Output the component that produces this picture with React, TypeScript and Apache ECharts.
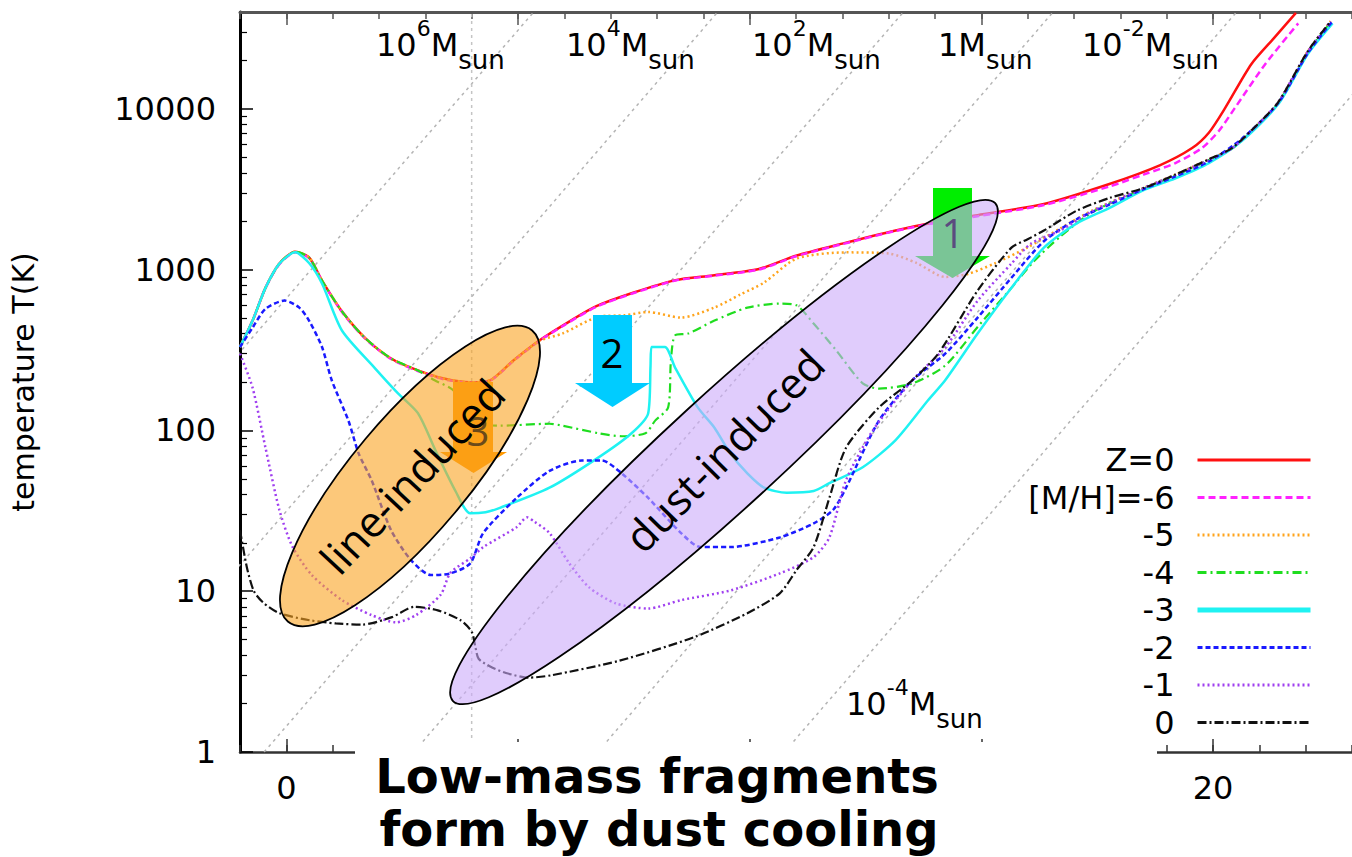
import React, { useEffect, useRef } from "react";
import * as echarts from "echarts";

// ---------- data (x = log density, y = temperature K) ----------
const seriesNames = ["Z=0", "[M/H]=-6", "-5", "-4", "-3", "-2", "-1", "0"];
const seriesColors = ["#ff1010", "#ff22ff", "#ffa41c", "#1fdd1f", "#1ff2f2", "#1a1aff", "#a040f0", "#111111"];
const seriesDash: any[] = ["solid", [7, 4], [2, 3], [9, 4, 2, 4], "solid", [5, 3], [2, 3], [9, 3, 2, 3]];
const seriesWidth = [2.5, 2.5, 2.5, 2.2, 2.5, 2.5, 2.5, 2.2];
const legendWidth = [3, 3, 3, 3, 5, 3, 3, 3];

const tempZ0 = [[-1, 330], [-0.73, 480], [-0.45, 770], [-0.15, 1090], [0.19, 1290], [0.49, 1190], [0.77, 855], [1.2, 550], [1.69, 378], [2.26, 280], [2.84, 236], [3.4, 210], [3.97, 199], [4.4, 205], [4.9, 272], [5.46, 362], [6.0, 455], [6.68, 590], [7.5, 720], [8.4, 860], [9.2, 920], [10.2, 1010], [11.0, 1220], [12.0, 1450], [13.15, 1750], [14.0, 1970], [14.92, 2180], [16.35, 2560], [17.78, 3420], [18.85, 4450], [19.55, 5700], [19.91, 7100], [20.26, 10100], [20.83, 19000], [21.32, 27600], [21.79, 39500]];
const tempM6 = [[-1, 330], [-0.73, 480], [-0.45, 770], [-0.15, 1080], [0.19, 1280], [0.49, 1180], [0.77, 850], [1.2, 545], [1.69, 375], [2.26, 278], [2.84, 234], [3.4, 208], [3.97, 198], [4.4, 204], [4.9, 270], [5.46, 360], [6.0, 452], [6.68, 585], [7.5, 715], [8.4, 855], [9.2, 915], [10.2, 1000], [11.0, 1210], [12.0, 1440], [13.15, 1740], [14.0, 1950], [14.92, 2150], [16.35, 2520], [17.78, 3300], [18.5, 3900], [19.19, 4600], [19.76, 5700], [20.13, 7300], [20.47, 10100], [21.13, 19000], [21.84, 34000]];
const tempM5 = [[-1, 330], [-0.73, 480], [-0.45, 770], [-0.15, 1090], [0.19, 1290], [0.49, 1190], [0.77, 855], [1.2, 550], [1.69, 378], [2.26, 280], [2.84, 236], [3.4, 210], [3.97, 199], [4.4, 205], [4.9, 272], [5.46, 360], [5.96, 400], [6.74, 510], [7.3, 520], [7.81, 545], [8.52, 503], [9.24, 581], [9.8, 700], [10.31, 830], [11.01, 1170], [12.08, 1280], [13.0, 1260], [13.6, 1100], [14.22, 900], [14.71, 940], [15.28, 1090], [15.99, 1370], [16.7, 1800], [17.42, 2350], [18.48, 3200], [19.19, 3900], [19.91, 4850], [20.41, 5700], [20.98, 8100], [21.41, 11000], [22.05, 22900], [22.54, 35000]];
const tempM4 = [[-1, 330], [-0.73, 480], [-0.45, 770], [-0.15, 1090], [0.19, 1290], [0.49, 1190], [0.77, 855], [1.2, 550], [1.69, 378], [2.26, 280], [2.84, 236], [3.2, 205], [3.59, 179], [3.9, 135], [4.2, 110], [4.61, 107], [5.68, 110], [5.96, 107], [6.74, 96], [7.24, 92], [7.75, 96], [7.96, 115], [8.24, 139], [8.3, 272], [8.39, 390], [8.67, 400], [9.24, 482], [9.95, 580], [10.65, 615], [11.01, 600], [11.38, 462], [11.87, 314], [12.44, 196], [12.79, 182], [13.51, 196], [14.22, 253], [14.92, 440], [15.65, 770], [16.14, 1130], [16.7, 1600], [17.42, 2300], [18.48, 3150], [19.19, 3850], [19.91, 4800], [20.41, 5650], [20.98, 8000], [21.41, 10900], [22.05, 22500], [22.54, 34500]];
const tempM3 = [[-1, 330], [-0.73, 480], [-0.45, 770], [-0.15, 1090], [0.19, 1280], [0.49, 1100], [0.77, 820], [1.2, 418], [1.9, 246], [2.41, 170], [2.84, 128], [3.22, 75], [3.65, 42], [3.97, 30.5], [4.3, 31], [4.61, 33], [5.68, 44], [6.74, 68], [7.45, 96], [7.81, 128], [7.86, 250], [7.88, 330], [8.17, 330], [8.39, 246], [8.88, 139], [9.24, 104], [9.58, 72], [9.95, 54], [10.31, 44], [10.8, 41], [11.38, 42], [11.72, 47], [12.44, 59], [13.15, 87], [13.85, 154], [14.22, 205], [14.92, 400], [15.65, 770], [16.35, 1370], [17.05, 1930], [17.78, 2430], [18.48, 3100], [19.19, 3700], [19.91, 4600], [20.62, 6300], [21.41, 10700], [22.05, 22000], [22.58, 34000]];
const tempM2 = [[-1, 330], [-0.73, 435], [-0.45, 570], [-0.04, 642], [0.28, 580], [0.49, 482], [0.77, 330], [0.98, 205], [1.34, 115], [1.56, 72], [1.84, 49], [2.26, 24], [2.69, 15.6], [3.12, 12.6], [3.54, 12.9], [3.97, 14.9], [4.25, 23], [4.97, 38], [5.68, 56], [6.38, 65], [6.81, 65], [7.24, 54], [7.81, 38], [8.52, 23], [8.94, 18.8], [9.58, 18.8], [10.65, 21.6], [11.38, 26.4], [11.8, 32], [12.08, 44], [12.79, 115], [13.51, 205], [14.22, 300], [14.92, 503], [15.65, 890], [16.35, 1500], [17.05, 2050], [17.78, 2550], [18.48, 3150], [19.19, 3800], [19.91, 4700], [20.62, 6500], [21.41, 10900], [22.05, 22300], [22.56, 34500]];
const tempM1 = [[-1, 300], [-0.73, 185], [-0.45, 78], [-0.15, 32], [0.13, 19], [0.55, 12.6], [1.2, 8.8], [1.84, 7.1], [2.37, 6.4], [2.8, 7.1], [3.33, 9.5], [3.54, 13], [3.97, 16], [4.25, 18.8], [4.97, 25], [5.19, 28.8], [5.36, 27], [5.68, 23], [6.1, 15], [6.53, 10.6], [7.11, 8.4], [7.81, 7.8], [8.52, 8.8], [9.58, 10.1], [10.65, 12.9], [11.38, 16.3], [11.72, 21.6], [12.08, 49], [12.66, 100], [13.51, 205], [14.22, 328], [14.92, 640], [15.65, 1090], [16.07, 1450], [16.7, 1750], [17.42, 2330], [18.48, 3200], [19.19, 3880], [19.91, 4820], [20.41, 5680], [20.98, 8050], [21.41, 11000], [22.05, 22800], [22.54, 35000]];
const tempM0 = [[-1, 24], [-0.85, 14], [-0.7, 10], [-0.5, 8.5], [-0.15, 7.3], [0.5, 6.6], [1.07, 6.3], [1.64, 6.2], [2.28, 6.9], [2.77, 8.0], [3.27, 7.6], [3.76, 6.6], [4.0, 5.6], [4.08, 4.5], [4.15, 3.8], [4.4, 3.4], [4.74, 3.1], [5.23, 2.9], [5.72, 3.0], [7.19, 3.7], [8.82, 5.2], [9.95, 7.3], [10.65, 9.7], [11.01, 13.5], [11.38, 18.8], [11.72, 38], [12.08, 78], [12.79, 139], [13.51, 205], [14.07, 300], [14.92, 741], [15.65, 1370], [15.99, 1540], [16.35, 1750], [17.05, 2320], [17.78, 2800], [18.48, 3200], [19.19, 3900], [19.91, 4850], [20.41, 5700], [20.98, 8100], [21.41, 11000], [22.05, 22900], [22.54, 35000]];
const curves = [tempZ0, tempM6, tempM5, tempM4, tempM3, tempM2, tempM1, tempM0];

// Jeans-mass guide lines: x where each crosses T=1 and T=40000
const jeansBottomX = [-8.46, -4.49, -0.48, 2.75, 6.72, 10.75];
const jeansTopX = [5.34, 9.31, 13.32, 16.55, 20.51, 24.55];
const tempRange = [1, 40000];
const densityMarkX = 4;

// axis ticks
const xRange = [-1, 23];
const xMajorTicks = [0, 5, 10, 15, 20];
const xLabelValues = [0, 20];
const yMinorTicks = [2, 3, 4, 5, 6, 7, 8, 9, 20, 30, 40, 50, 60, 70, 80, 90, 200, 300, 400, 500, 600, 700, 800, 900, 2000, 3000, 4000, 5000, 6000, 7000, 8000, 9000, 20000, 30000];

// mass labels
const massBase = ["10", "10", "10", "1", "10"];
const massSup = ["6", "4", "2", "", "-2"];
const massLabelX = [376, 566, 752, 938, 1082];

const FONT = '"DejaVu Sans", sans-serif';
const OPEN = '"Open Sans", sans-serif';

function arrow(x1: number, x2: number, yTop: number, yNeck: number, hx1: number, hx2: number, yTip: number) {
  return [[x1, yTop], [x2, yTop], [x2, yNeck], [hx2, yNeck], [(hx1 + hx2) / 2, yTip], [hx1, yNeck], [x1, yNeck]];
}

function massLabel(x: number, y: number, base: string, sup: string) {
  const text = sup ? `{n|${base}}{s|${sup}}{n|M}{b|sun}` : `{n|${base}M}{b|sun}`;
  return {
    type: "text",
    x,
    y,
    z: 12,
    style: {
      text,
      fill: "#000",
      align: "left",
      verticalAlign: "top",
      rich: {
        n: { fontSize: 32, fontFamily: FONT, lineHeight: 56, verticalAlign: "middle", fill: "#000" },
        s: { fontSize: 22, fontFamily: FONT, lineHeight: 22, verticalAlign: "top", fill: "#000" },
        b: { fontSize: 26, fontFamily: FONT, lineHeight: 26, verticalAlign: "bottom", fill: "#000" },
      },
    },
  };
}

function buildOption() {
  const lineSeries = seriesNames.map((name, i) => ({
    type: "line",
    name,
    data: curves[i],
    xAxisIndex: 0,
    yAxisIndex: 0,
    symbol: "none",
    showSymbol: false,
    smooth: 0.25,
    z: 3,
    lineStyle: { color: seriesColors[i], width: seriesWidth[i], type: seriesDash[i] },
    itemStyle: { color: seriesColors[i] },
  }));

  const guideSeries: any[] = jeansBottomX.map((bx, i) => ({
    type: "line",
    name: "jeans" + i,
    data: [[bx, tempRange[0]], [jeansTopX[i], tempRange[1]]],
    xAxisIndex: 0,
    yAxisIndex: 0,
    symbol: "none",
    silent: true,
    z: 1,
    lineStyle: { color: "#b4b4b4", width: 1.5, type: [3, 4] },
  }));
  guideSeries.push({
    type: "line",
    name: "densityMark",
    data: [[densityMarkX, tempRange[0]], [densityMarkX, tempRange[1]]],
    xAxisIndex: 0,
    yAxisIndex: 0,
    symbol: "none",
    silent: true,
    z: 1,
    lineStyle: { color: "#c4c4c4", width: 1.5, type: [3, 4] },
  });

  const tickStyle = { color: "#333", width: 1.5 };
  const xCommon = { type: "value", min: xRange[0], max: xRange[1], splitLine: { show: false } };

  return {
    animation: false,
    backgroundColor: "#ffffff",
    grid: { left: 238, top: 12, width: 1124.4, height: 740, show: false },
    xAxis: [
      {
        ...xCommon,
        position: "bottom",
        interval: 1,
        axisLine: { onZero: false, lineStyle: { color: "#333", width: 2.5 } },
        axisTick: { inside: true, length: 7, lineStyle: tickStyle },
        axisLabel: { customValues: xLabelValues, fontSize: 32, fontFamily: FONT, color: "#000", margin: 20 },
      },
      {
        ...xCommon,
        position: "bottom",
        axisLine: { show: false, onZero: false },
        axisTick: { inside: true, length: 13, customValues: xMajorTicks, lineStyle: tickStyle },
        axisLabel: { show: false },
      },
      {
        ...xCommon,
        position: "top",
        interval: 1,
        axisLine: { onZero: false, lineStyle: { color: "#555", width: 3 } },
        axisTick: { inside: true, length: 7, lineStyle: { color: "#555", width: 1.5 } },
        axisLabel: { show: false },
      },
      {
        ...xCommon,
        position: "top",
        axisLine: { show: false, onZero: false },
        axisTick: { inside: true, length: 13, customValues: xMajorTicks, lineStyle: { color: "#555", width: 1.5 } },
        axisLabel: { show: false },
      },
    ],
    yAxis: [
      {
        type: "log",
        logBase: 10,
        min: tempRange[0],
        max: tempRange[1],
        position: "left",
        splitNumber: 5,
        axisLine: { onZero: false, lineStyle: { color: "#000", width: 3 } },
        axisTick: { inside: true, length: 13, lineStyle: { color: "#000", width: 1.5 } },
        axisLabel: {
          fontSize: 32,
          fontFamily: FONT,
          color: "#000",
          margin: 24,
          showMaxLabel: false,
          formatter: (v: number) => String(Math.round(v)),
        },
        splitLine: { show: false },
        name: "temperature T(K)",
        nameLocation: "middle",
        nameGap: 202,
        nameTextStyle: { fontSize: 30, fontFamily: FONT, color: "#000" },
      },
      {
        type: "value",
        min: 0,
        max: Math.log10(tempRange[1]),
        position: "left",
        axisLine: { show: false, onZero: false },
        axisTick: { inside: true, length: 7, customValues: yMinorTicks.map((v) => Math.log10(v)), lineStyle: { color: "#000", width: 1.2 } },
        axisLabel: { show: false },
        splitLine: { show: false },
      },
    ],
    legend: {
      data: seriesNames.map((name, i) => ({
        name,
        lineStyle: { width: legendWidth[i] },
      })),
      orient: "vertical",
      align: "right",
      right: 39,
      top: 444,
      padding: 0,
      itemWidth: 113,
      itemHeight: 14,
      itemGap: 5.5,
      selectedMode: false,
      itemStyle: { opacity: 0, color: "transparent", borderWidth: 0 },
      textStyle: { fontSize: 32, fontFamily: FONT, color: "#000", lineHeight: 32, padding: [0, 18, 0, 0] },
    },
    series: [...guideSeries, ...lineSeries],
    graphic: [
      // arrows (under the ellipses)
      { type: "polygon", z: 10, shape: { points: arrow(933, 972, 188, 256, 915, 990, 278) }, style: { fill: "#00ee00" } },
      { type: "polygon", z: 10, shape: { points: arrow(453, 493, 382, 452, 440, 507, 473) }, style: { fill: "#ff9900" } },
      { type: "polygon", z: 10, shape: { points: arrow(593, 632, 315, 383, 575, 650, 407) }, style: { fill: "#00ccff" } },
      // ellipses
      {
        type: "ellipse", z: 11, x: 410, y: 476, rotation: (50 * Math.PI) / 180,
        shape: { cx: 0, cy: 0, rx: 190, ry: 58 },
        style: { fill: "rgba(250,163,33,0.6)", stroke: "#000", lineWidth: 1.8 },
      },
      {
        type: "ellipse", z: 11, x: 724, y: 452, rotation: (42.5 * Math.PI) / 180,
        shape: { cx: 0, cy: 0, rx: 368, ry: 56 },
        style: { fill: "rgba(203,170,250,0.6)", stroke: "#000", lineWidth: 1.8 },
      },
      // arrow numbers
      { type: "text", z: 12, x: 953, y: 232, style: { text: "1", fill: "#5b4b7f", fontSize: 40, fontFamily: OPEN, align: "center", verticalAlign: "middle" } },
      { type: "text", z: 12, x: 612, y: 352, style: { text: "2", fill: "#000", fontSize: 40, fontFamily: OPEN, align: "center", verticalAlign: "middle" } },
      { type: "text", z: 12, x: 478, y: 430, style: { text: "3", fill: "#6b4a1a", fontSize: 40, fontFamily: OPEN, align: "center", verticalAlign: "middle" } },
      // ellipse labels
      { type: "text", z: 13, x: 412, y: 476, rotation: (47 * Math.PI) / 180, style: { text: "line-induced", fill: "#000", fontSize: 43, fontFamily: OPEN, align: "center", verticalAlign: "middle" } },
      { type: "text", z: 13, x: 724, y: 450, rotation: (45.5 * Math.PI) / 180, style: { text: "dust-induced", fill: "#000", fontSize: 43, fontFamily: OPEN, align: "center", verticalAlign: "middle" } },
      // mass labels
      ...massBase.map((b, i) => massLabel(massLabelX[i], 17, b, massSup[i])),
      massLabel(846, 676, "10", "-4"),
      // title box
      { type: "rect", z: 30, shape: { x: 355, y: 742, width: 802, height: 115 }, style: { fill: "#ffffff" } },
      { type: "text", z: 31, x: 657, y: 776, style: { text: "Low-mass fragments", fill: "#000", fontSize: 48, fontWeight: "bold", fontFamily: FONT, align: "center", verticalAlign: "middle" } },
      { type: "text", z: 31, x: 659, y: 829, style: { text: "form by dust cooling", fill: "#000", fontSize: 48, fontWeight: "bold", fontFamily: FONT, align: "center", verticalAlign: "middle" } },
    ],
  };
}

export default function App() {
  const ref = useRef<HTMLDivElement>(null);
  useEffect(() => {
    if (!ref.current) return;
    const chart = echarts.init(ref.current, null, { renderer: "svg" });
    chart.setOption(buildOption() as any);
    return () => chart.dispose();
  }, []);
  return (
    <div
      ref={ref}
      style={{ position: "fixed", left: 0, top: 0, width: 1352, height: 857, background: "#fff" }}
    />
  );
}
